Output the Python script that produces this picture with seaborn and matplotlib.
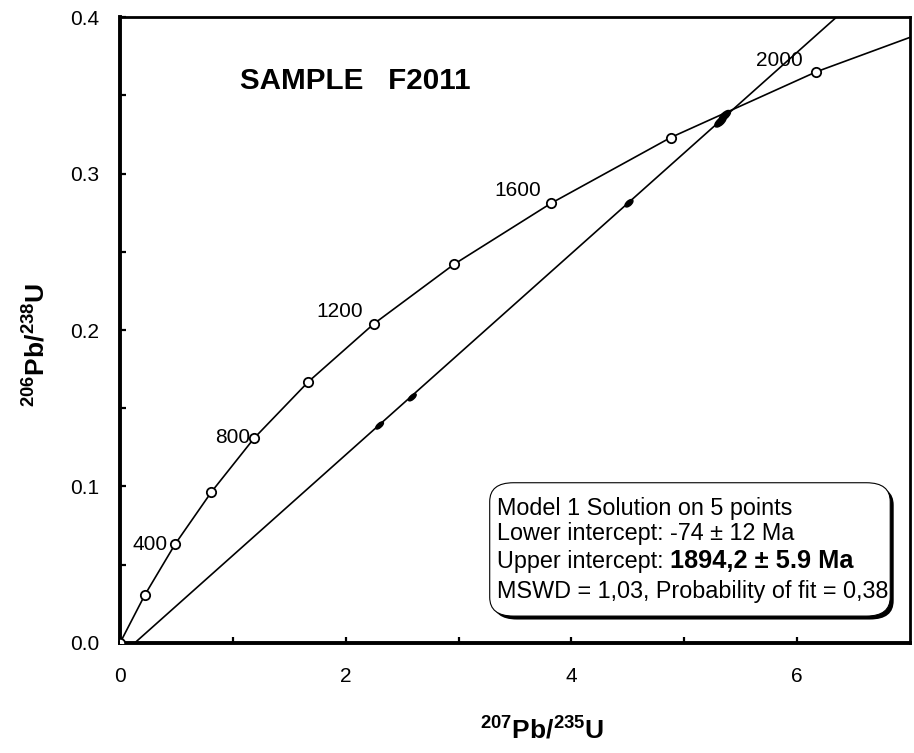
import numpy as np
import pandas as pd
import matplotlib
matplotlib.use('Agg')
import matplotlib.pyplot as plt
import seaborn as sns
from matplotlib.collections import EllipseCollection
from matplotlib.patches import FancyBboxPatch
from matplotlib import patheffects

# Concordia: marked ages (Ma) and their ratios
edades = [0, 200, 400, 600, 800, 1000, 1200, 1400, 1600, 1800, 2000]
x_conc = [0.0, 0.22, 0.487, 0.81, 1.19, 1.67, 2.25, 2.96, 3.82, 4.88, 6.17]
y_conc = [0.0, 0.0307, 0.063, 0.0965, 0.131, 0.167, 0.204, 0.242, 0.281, 0.323, 0.365]
# continuation of the curve up to the right border
x_conc_fin = [7.0]
y_conc_fin = [0.387]
etiquetas = [400, 800, 1200, 1600, 2000]

# Discordia line (ends)
x_disc = [0.13, 6.35]
y_disc = [0.0, 0.4]

# Analysed points (ellipses) on the discordia
x_pts = [2.30, 2.59, 4.51, 5.32, 5.36]
y_pts = [0.139, 0.157, 0.281, 0.333, 0.337]

titulo = 'SAMPLE   F2011'
lineas_caja = ['Model 1 Solution on 5 points',
               'Lower intercept: -74 \u00b1 12 Ma',
               'Upper intercept: ',
               'MSWD = 1,03, Probability of fit = 0,38']
edad_sup = '1894,2 \u00b1 5.9 Ma'

sns.set_style('ticks', {'xtick.direction': 'in', 'ytick.direction': 'in'})
plt.rcParams['font.family'] = ['Liberation Sans', 'DejaVu Sans']
plt.rcParams['mathtext.fontset'] = 'custom'
plt.rcParams['mathtext.rm'] = 'Liberation Sans'
plt.rcParams['mathtext.bf'] = 'Liberation Sans:bold'
for clave in ['text.color', 'axes.labelcolor', 'xtick.color', 'ytick.color', 'axes.edgecolor']:
    plt.rcParams[clave] = 'black'

fig = plt.figure(figsize=(9.14, 7.53), dpi=100)
ax = fig.add_axes([0.1313, 0.1461, 0.8643, 0.8313])

curva = pd.DataFrame({'x': x_conc + x_conc_fin, 'y': y_conc + y_conc_fin})
sns.lineplot(data=curva, x='x', y='y', sort=False, color='black', lw=1.2, ax=ax)
disc = pd.DataFrame({'x': x_disc, 'y': y_disc})
sns.lineplot(data=disc, x='x', y='y', sort=False, color='black', lw=1.2, ax=ax)

marcas = pd.DataFrame({'x': x_conc, 'y': y_conc})
sns.scatterplot(data=marcas, x='x', y='y', marker='o', s=45, facecolor='white',
                edgecolor='black', linewidth=1.3, zorder=5, ax=ax)

# data ellipses, oriented along the discordia
ang = 41.7
anchos = [7, 7, 7, 10, 10]
altos = [3, 3, 3.5, 4.5, 4.5]
ec = EllipseCollection(anchos, altos, [ang] * len(x_pts), units='points',
                       offsets=np.column_stack([x_pts, y_pts]),
                       offset_transform=ax.transData,
                       facecolors='black', edgecolors='black', zorder=4)
ax.add_collection(ec)

# age labels
desplaz = {400: (-5, 0), 800: (-3, 0), 1200: (-8, 8.5), 1600: (-7, 9.5), 2000: (-10, 8)}
for e in etiquetas:
    i = edades.index(e)
    ax.annotate(str(e), (x_conc[i], y_conc[i]), xytext=desplaz[e],
                textcoords='offset points', ha='right', va='center', fontsize=15)

ax.text(1.06, 0.359, titulo, fontsize=21.3, fontweight='bold', va='center', ha='left')

ax.set_xlim(0, 7)
ax.set_ylim(0, 0.4)
ax.set_xticks([0, 2, 4, 6])
ax.set_xticks([1, 3, 5], minor=True)
ax.set_yticks([0.0, 0.1, 0.2, 0.3, 0.4])
ax.set_yticks([0.05, 0.15, 0.25, 0.35], minor=True)
ax.set_yticklabels(['0.0', '0.1', '0.2', '0.3', '0.4'])
ax.tick_params(which='both', direction='in', length=4, width=1.6, labelsize=15)
ax.tick_params(axis='y', which='both', pad=15)
ax.tick_params(axis='x', which='both', pad=17)
ax.tick_params(which='both', top=False, right=False)

for lado in ['left', 'bottom']:
    ax.spines[lado].set_linewidth(2.8)
for lado in ['top', 'right']:
    ax.spines[lado].set_linewidth(2.0)

ax.set_xlabel(r'$\mathbf{^{207}Pb/^{235}U}$', fontsize=19)
ax.set_ylabel(r'$\mathbf{^{206}Pb/^{238}U}$', fontsize=19)
ax.xaxis.set_label_coords(0.534, -0.118)
ax.yaxis.set_label_coords(-0.089, 0.476)

# result box with shadow
caja = FancyBboxPatch((0.468, 0.043), 0.507, 0.213, transform=ax.transAxes,
                      boxstyle='round,pad=0,rounding_size=0.03',
                      facecolor='white', edgecolor='black', lw=0.8, zorder=6,
                      path_effects=[patheffects.SimplePatchShadow(offset=(2.5, -2.5),
                                                                  shadow_rgbFace='black',
                                                                  alpha=1.0),
                                    patheffects.Normal()])
ax.add_patch(caja)
y_lin = [0.215, 0.175, 0.130, 0.083]
for lin, yy in zip(lineas_caja, y_lin):
    t = ax.text(0.477, yy, lin, transform=ax.transAxes, fontsize=16.8,
                va='center', ha='left', zorder=7)
    if lin.startswith('Upper'):
        ax.annotate(edad_sup, xy=(1, 0), xycoords=t, va='bottom', ha='left',
                    fontsize=18.3, fontweight='bold', zorder=7)

fig.savefig('out.png', dpi=100)
